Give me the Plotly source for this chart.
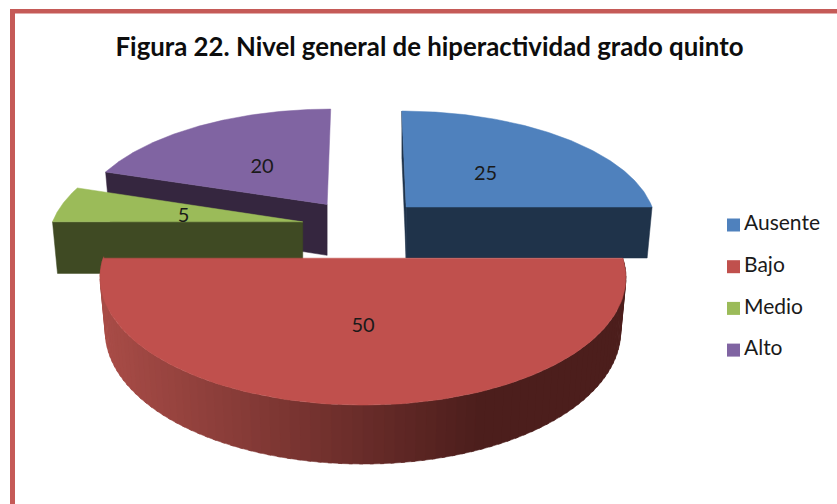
"""Figura 22: exploded 3D-style pie drawn with filled scatter traces."""

import numpy as np
import plotly.graph_objects as go

CATEGORIES = ["Ausente", "Bajo", "Medio", "Alto"]
VALUES = [25, 50, 5, 20]
TOP_COLORS = ["#4f81bd", "#c0504d", "#9bbb59", "#8064a2"]
SIDE_COLORS = ["#1f334a", "#4c1e1c", "#3f4a23", "#35263f"]
TITLE = "Figura 22. Nivel general de hiperactividad grado quinto"

W, H = 837, 504
FONT = "Lato, sans-serif"
TILT = 0.153  # foreshortening of the pie plane
CENTER_X = 363

# slice geometry derived from the values, clockwise from 12 o'clock
fractions = np.array(VALUES) / sum(VALUES)
ends = np.pi / 2 - 2 * np.pi * np.cumsum(fractions)
starts = ends + 2 * np.pi * fractions


def vertex(mid):
    """Screen position of an exploded slice's tip."""
    u, w = np.cos(mid), np.sin(mid)
    return CENTER_X + 61 * u, 226.3 - 29 * w / (1 + 0.09 * w)


def project(mid, angle, r=1.0, ry=None):
    vx, vy = vertex(mid)
    we = np.sin(mid)
    a = 251.5 / (1 + 0.032 * we)
    b = 116 / (1 + 0.068 * we)
    ry = r if ry is None else ry
    x = vx + a * r * np.cos(angle) / (1 + TILT * r * np.sin(angle))
    x = x + 0.1 * r * np.sin(angle) * (CENTER_X - vx)  # lines converge going back
    y = vy - b * ry * np.sin(angle) / (1 + TILT * ry * np.sin(angle))
    return x, y


def drop(mid, x, y):
    """Point on the bottom face below a top-face point."""
    vx, _ = vertex(mid)
    return vx + 0.98 * (x - vx), y + 51 + 0.04 * (y - 207)


def poly(fig, xs, ys, color):
    fig.add_trace(go.Scatter(
        x=xs, y=ys, mode="lines", fill="toself", fillcolor=color,
        line=dict(color=color, width=0.5),
        hoverinfo="skip", showlegend=False,
    ))


def top_face(fig, i):
    mid = (starts[i] + ends[i]) / 2
    arc = np.linspace(starts[i], ends[i], 120)
    x, y = project(mid, arc)
    vx, vy = vertex(mid)
    poly(fig, [vx, *x, vx], [vy, *y, vy], TOP_COLORS[i])


def radial_side(fig, i, angle):
    mid = (starts[i] + ends[i]) / 2
    vx, vy = vertex(mid)
    rx, ry = project(mid, angle)
    bvx, bvy = drop(mid, vx, vy)
    brx, bry = drop(mid, rx, ry)
    poly(fig, [vx, rx, brx, bvx, vx], [vy, ry, bry, bvy, vy], SIDE_COLORS[i])


fig = go.Figure()

# back to front: Alto, Medio, Ausente, Bajo
radial_side(fig, 3, starts[3])
top_face(fig, 3)
radial_side(fig, 2, starts[2])
top_face(fig, 2)
radial_side(fig, 0, ends[0])
radial_side(fig, 0, starts[0])
top_face(fig, 0)

# Bajo rim, shaded in strips from left to right (angles run downwards)
mid_bajo = (starts[1] + ends[1]) / 2
edges = np.linspace(starts[1], ends[1], 91)
for t0, t1 in zip(edges[:-1], edges[1:]):
    arc = np.linspace(t0, t1 - 0.012, 4)
    x, y = project(mid_bajo, arc)
    bx, by = drop(mid_bajo, x, y)
    k = np.clip((x.mean() - 105) / (480 - 105), 0, 1)
    col = "rgb(%d,%d,%d)" % (168 - 92 * k, 76 - 46 * k, 71 - 43 * k)
    poly(fig, [*x, *bx[::-1], x[0]], [*y, *by[::-1], y[0]], col)
top_face(fig, 1)

# data labels
mids = (starts + ends) / 2
label_pos = [project(m, m, 0.49, 0.48) for m in mids]
fig.add_trace(go.Scatter(
    x=[p[0] for p in label_pos], y=[p[1] + 4 for p in label_pos],
    mode="text", text=[str(v) for v in VALUES],
    textposition="middle center",
    textfont=dict(family=FONT, size=20, color="#1a1a1a"),
    hoverinfo="skip", showlegend=False,
))

# legend drawn by hand: plotly's own swatch-to-text gap is too wide here
legend_y = [225 + 41.7 * i for i in range(len(CATEGORIES))]
for i, name in enumerate(CATEGORIES):
    fig.add_trace(go.Scatter(
        x=[733.5], y=[legend_y[i]], mode="markers", name=name,
        marker=dict(symbol="square", size=13, color=TOP_COLORS[i]),
        showlegend=False,
    ))
fig.add_trace(go.Scatter(
    x=[744] * len(CATEGORIES), y=legend_y, mode="text", text=CATEGORIES,
    textposition="middle right",
    textfont=dict(family=FONT, size=21, color="#1a1a1a"),
    hoverinfo="skip", showlegend=False,
))

fig.update_layout(
    width=W, height=H,
    margin=dict(l=0, r=0, t=0, b=0),
    paper_bgcolor="white", plot_bgcolor="white",
    xaxis=dict(range=[0, W], visible=False, fixedrange=True),
    yaxis=dict(range=[H, 0], visible=False, fixedrange=True),
    title=dict(
        text=f"<b>{TITLE}</b>", x=429.5 / W, xanchor="center",
        y=1 - 47 / H, yanchor="middle",
        font=dict(family=FONT, size=25.8, color="#0d0d0d"),
    ),
    shapes=[
        dict(type="rect", xref="x", yref="y", x0=10, x1=W, y0=9, y1=13.5,
             fillcolor="#c55a57", line_width=0, layer="below"),
        dict(type="rect", xref="x", yref="y", x0=10, x1=15, y0=9, y1=H,
             fillcolor="#c55a57", line_width=0, layer="below"),
    ],
)

# the page's default body margin would shift the whole figure by 8px
fig.write_html(
    "out.html",
    config={"displayModeBar": False},
    post_script="document.body.style.margin='0';",
)
